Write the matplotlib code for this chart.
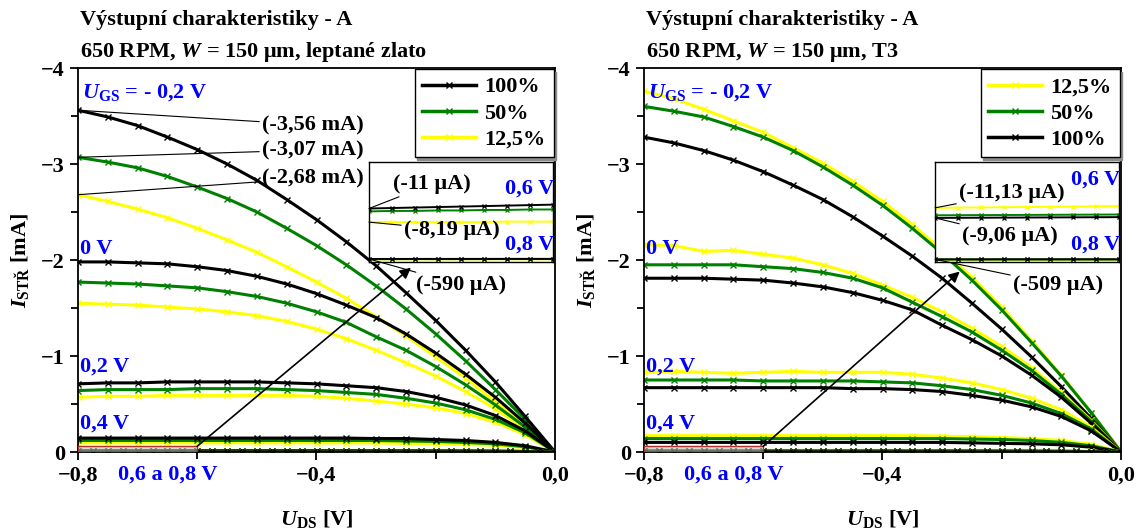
import matplotlib
matplotlib.use("Agg")
import matplotlib.pyplot as plt
from matplotlib.patches import Rectangle
from matplotlib.lines import Line2D
from matplotlib.ticker import MultipleLocator, FuncFormatter

plt.rcParams['font.family'] = ['Liberation Serif', 'DejaVu Serif']
plt.rcParams['font.weight'] = 'bold'
plt.rcParams['font.size'] = 16
plt.rcParams['mathtext.fontset'] = 'custom'
plt.rcParams['mathtext.rm'] = 'Liberation Serif:bold'
plt.rcParams['mathtext.it'] = 'Liberation Serif:italic:bold'
plt.rcParams['mathtext.bf'] = 'Liberation Serif:bold'

# U_DS sweep [V]
UDS = [-0.8, -0.75, -0.7, -0.65, -0.6, -0.55, -0.5, -0.45, -0.4,
       -0.35, -0.3, -0.25, -0.2, -0.15, -0.1, -0.05, 0.0]
UDS_FINE = [-0.8, -0.775, -0.75, -0.725, -0.7, -0.675, -0.65, -0.625, -0.6,
            -0.575, -0.55, -0.525, -0.5, -0.475, -0.45, -0.425, -0.4,
            -0.375, -0.35, -0.325, -0.3, -0.275, -0.25, -0.225, -0.2,
            -0.175, -0.15, -0.125, -0.1, -0.075, -0.05, -0.025, 0.0]

# left panel: leptane zlato, I [mA]
zl_m02_100 = [-3.56, -3.49, -3.40, -3.28, -3.15, -3.00, -2.83, -2.63, -2.42, -2.19, -1.94, -1.66, -1.37, -1.06, -0.73, -0.37, 0.0]
zl_m02_50 = [-3.07, -3.02, -2.96, -2.87, -2.76, -2.64, -2.50, -2.33, -2.15, -1.95, -1.73, -1.49, -1.23, -0.95, -0.65, -0.34, 0.0]
zl_m02_12 = [-2.68, -2.61, -2.53, -2.44, -2.33, -2.21, -2.08, -1.93, -1.77, -1.60, -1.41, -1.21, -0.99, -0.77, -0.52, -0.27, 0.0]
zl_0_100 = [-1.98, -1.98, -1.97, -1.96, -1.93, -1.89, -1.83, -1.75, -1.65, -1.53, -1.40, -1.23, -1.03, -0.81, -0.57, -0.30, 0.0]
zl_0_50 = [-1.77, -1.76, -1.75, -1.73, -1.71, -1.67, -1.62, -1.55, -1.46, -1.35, -1.20, -1.06, -0.89, -0.70, -0.49, -0.26, 0.0]
zl_0_12 = [-1.55, -1.54, -1.53, -1.51, -1.49, -1.46, -1.42, -1.36, -1.28, -1.18, -1.06, -0.93, -0.79, -0.63, -0.45, -0.24, 0.0]
zl_02_100 = [-0.71, -0.72, -0.72, -0.73, -0.73, -0.73, -0.73, -0.72, -0.71, -0.69, -0.67, -0.63, -0.57, -0.49, -0.38, -0.22, 0.0]
zl_02_50 = [-0.64, -0.65, -0.65, -0.65, -0.66, -0.66, -0.66, -0.65, -0.64, -0.62, -0.60, -0.56, -0.51, -0.44, -0.34, -0.20, 0.0]
zl_02_12 = [-0.57, -0.58, -0.58, -0.59, -0.59, -0.59, -0.59, -0.59, -0.58, -0.56, -0.53, -0.50, -0.46, -0.40, -0.31, -0.18, 0.0]
zl_04_100 = [-0.145, -0.145, -0.145, -0.145, -0.145, -0.145, -0.145, -0.145, -0.145, -0.145, -0.14, -0.14, -0.13, -0.12, -0.10, -0.065, 0.0]
zl_04_50 = [-0.12, -0.12, -0.12, -0.12, -0.12, -0.12, -0.12, -0.12, -0.12, -0.12, -0.12, -0.115, -0.11, -0.10, -0.085, -0.055, 0.0]
zl_04_12 = [-0.095, -0.095, -0.095, -0.095, -0.095, -0.095, -0.095, -0.095, -0.095, -0.095, -0.095, -0.09, -0.085, -0.08, -0.07, -0.045, 0.0]
# sub-threshold, I [uA], on UDS_FINE
zl_06_100 = [-11.0, -11.1, -11.2, -11.3, -11.4, -11.5, -11.6, -11.7, -11.8, -11.8, -11.9, -11.9, -11.9, -11.9, -11.9, -11.9, -11.9,
             -11.9, -11.8, -11.8, -11.7, -11.6, -11.5, -11.3, -11.1, -10.8, -10.4, -9.8, -8.9, -7.6, -5.6, -3.1, 0.0]
zl_06_50 = [-10.4, -10.5, -10.5, -10.6, -10.6, -10.7, -10.7, -10.8, -10.8, -10.9, -10.9, -10.9, -10.9, -10.9, -10.9, -10.9, -10.9,
            -10.9, -10.8, -10.8, -10.7, -10.6, -10.5, -10.3, -10.1, -9.8, -9.4, -8.9, -8.1, -6.9, -5.1, -2.8, 0.0]
zl_06_12 = [-8.19, -8.2, -8.2, -8.2, -8.2, -8.2, -8.3, -8.3, -8.3, -8.3, -8.3, -8.3, -8.3, -8.3, -8.3, -8.3, -8.3,
            -8.3, -8.3, -8.2, -8.2, -8.1, -8.0, -7.9, -7.8, -7.6, -7.3, -6.9, -6.3, -5.4, -4.0, -2.2, 0.0]
zl_08_100 = [-0.59, -0.59, -0.60, -0.60, -0.60, -0.60, -0.61, -0.61, -0.61, -0.61, -0.61, -0.61, -0.61, -0.61, -0.61, -0.61, -0.61,
             -0.61, -0.61, -0.60, -0.60, -0.60, -0.59, -0.58, -0.57, -0.55, -0.53, -0.50, -0.45, -0.39, -0.29, -0.16, 0.0]
zl_08_50 = [-0.55, -0.55, -0.56, -0.56, -0.56, -0.56, -0.57, -0.57, -0.57, -0.57, -0.57, -0.57, -0.57, -0.57, -0.57, -0.57, -0.57,
            -0.57, -0.57, -0.56, -0.56, -0.56, -0.55, -0.54, -0.53, -0.51, -0.49, -0.46, -0.42, -0.36, -0.27, -0.15, 0.0]
zl_08_12 = [-0.50, -0.50, -0.51, -0.51, -0.51, -0.51, -0.52, -0.52, -0.52, -0.52, -0.52, -0.52, -0.52, -0.52, -0.52, -0.52, -0.52,
            -0.52, -0.52, -0.51, -0.51, -0.51, -0.50, -0.49, -0.48, -0.47, -0.45, -0.42, -0.38, -0.33, -0.25, -0.14, 0.0]

# right panel: T3, I [mA]
t3_m02_100 = [-3.28, -3.22, -3.14, -3.04, -2.92, -2.78, -2.63, -2.45, -2.25, -2.04, -1.81, -1.55, -1.28, -0.99, -0.68, -0.35, 0.0]
t3_m02_50 = [-3.60, -3.55, -3.49, -3.39, -3.28, -3.14, -2.97, -2.78, -2.57, -2.33, -2.07, -1.79, -1.48, -1.14, -0.79, -0.41, 0.0]
t3_m02_12 = [-3.76, -3.68, -3.57, -3.45, -3.33, -3.17, -3.01, -2.82, -2.61, -2.37, -2.10, -1.82, -1.51, -1.16, -0.80, -0.41, 0.0]
t3_0_100 = [-1.81, -1.81, -1.81, -1.80, -1.79, -1.76, -1.72, -1.66, -1.58, -1.48, -1.32, -1.17, -1.00, -0.80, -0.57, -0.30, 0.0]
t3_0_50 = [-1.95, -1.95, -1.95, -1.95, -1.93, -1.91, -1.87, -1.81, -1.71, -1.56, -1.41, -1.25, -1.06, -0.85, -0.60, -0.32, 0.0]
t3_0_12 = [-2.16, -2.15, -2.09, -2.10, -2.06, -2.02, -1.95, -1.86, -1.74, -1.61, -1.46, -1.29, -1.10, -0.88, -0.62, -0.33, 0.0]
t3_02_100 = [-0.67, -0.67, -0.67, -0.67, -0.67, -0.67, -0.67, -0.66, -0.66, -0.65, -0.63, -0.59, -0.54, -0.47, -0.37, -0.22, 0.0]
t3_02_50 = [-0.75, -0.75, -0.75, -0.75, -0.74, -0.74, -0.74, -0.74, -0.73, -0.72, -0.69, -0.65, -0.59, -0.51, -0.40, -0.24, 0.0]
t3_02_12 = [-0.83, -0.84, -0.83, -0.82, -0.83, -0.84, -0.83, -0.83, -0.83, -0.81, -0.77, -0.72, -0.65, -0.56, -0.44, -0.26, 0.0]
t3_04_100 = [-0.10, -0.10, -0.10, -0.10, -0.10, -0.10, -0.10, -0.10, -0.10, -0.10, -0.10, -0.095, -0.09, -0.085, -0.075, -0.05, 0.0]
t3_04_50 = [-0.14, -0.14, -0.14, -0.14, -0.14, -0.14, -0.14, -0.14, -0.14, -0.14, -0.14, -0.135, -0.13, -0.12, -0.10, -0.065, 0.0]
t3_04_12 = [-0.17, -0.17, -0.17, -0.17, -0.17, -0.17, -0.17, -0.17, -0.17, -0.17, -0.165, -0.16, -0.15, -0.14, -0.12, -0.08, 0.0]
t3_06_100 = [-9.06, -9.08, -9.10, -9.12, -9.14, -9.16, -9.18, -9.20, -9.22, -9.23, -9.24, -9.25, -9.25, -9.25, -9.25, -9.25, -9.25,
             -9.25, -9.24, -9.23, -9.20, -9.15, -9.10, -9.00, -8.80, -8.60, -8.20, -7.70, -7.00, -5.90, -4.40, -2.40, 0.0]
t3_06_50 = [-9.60, -9.62, -9.64, -9.66, -9.68, -9.70, -9.72, -9.74, -9.76, -9.77, -9.78, -9.78, -9.78, -9.78, -9.78, -9.78, -9.78,
            -9.78, -9.77, -9.76, -9.72, -9.67, -9.60, -9.50, -9.30, -9.05, -8.65, -8.10, -7.35, -6.20, -4.60, -2.50, 0.0]
t3_06_12 = [-11.13, -11.18, -11.22, -11.27, -11.31, -11.36, -11.40, -11.45, -11.50, -11.52, -11.55, -11.57, -11.58, -11.58, -11.58, -11.58, -11.58,
            -11.57, -11.55, -11.52, -11.48, -11.40, -11.30, -11.15, -10.90, -10.60, -10.10, -9.50, -8.60, -7.30, -5.40, -3.00, 0.0]
t3_08_100 = [-0.51, -0.51, -0.51, -0.52, -0.52, -0.52, -0.52, -0.52, -0.52, -0.52, -0.52, -0.52, -0.52, -0.52, -0.52, -0.52, -0.52,
             -0.52, -0.52, -0.51, -0.51, -0.51, -0.50, -0.49, -0.48, -0.47, -0.45, -0.42, -0.38, -0.33, -0.25, -0.14, 0.0]
t3_08_50 = [-0.48, -0.48, -0.48, -0.49, -0.49, -0.49, -0.49, -0.49, -0.49, -0.49, -0.49, -0.49, -0.49, -0.49, -0.49, -0.49, -0.49,
            -0.49, -0.49, -0.48, -0.48, -0.48, -0.47, -0.46, -0.45, -0.44, -0.42, -0.40, -0.36, -0.31, -0.23, -0.13, 0.0]
t3_08_12 = [-0.46, -0.46, -0.46, -0.46, -0.46, -0.46, -0.47, -0.47, -0.47, -0.47, -0.47, -0.47, -0.47, -0.47, -0.47, -0.47, -0.47,
            -0.47, -0.47, -0.46, -0.46, -0.46, -0.45, -0.44, -0.43, -0.42, -0.40, -0.38, -0.34, -0.29, -0.22, -0.12, 0.0]

BLACK, GREEN, YELLOW, BLUE = '#000000', '#008000', '#ffff00', '#0000ff'
SERIES = {'100%': BLACK, '50%': GREEN, '12,5%': YELLOW}

W, H = 1141, 532
AX_W, AX_TOP, AX_BOT = 477, 68, 452


def fr(px, py, x0):
    # figure pixel -> axes fraction
    return ((px - x0) / AX_W, (AX_BOT - py) / (AX_BOT - AX_TOP))


def fmt_x(v, pos):
    if abs(v) < 1e-9:
        v = 0.0
    return f'{v:.1f}'.replace('.', ',').replace('-', '\u2212')


def fmt_y(v, pos):
    if abs(v) < 1e-9:
        return '0'
    return f'{v:.0f}'.replace('-', '\u2212')


def panel(x0, main, sub, order, subtitle, ann, sub_ann, blue_inset, arrow_end, title_x):
    ax = fig.add_axes([x0 / W, 1 - AX_BOT / H, AX_W / W, (AX_BOT - AX_TOP) / H])
    mk = dict(lw=2.2, marker='x', ms=4.5, mew=1.0)
    for group in main:
        for name in ['12,5%', '50%', '100%']:
            ax.plot(UDS, group[name], color=SERIES[name], **mk)
    for group in sub:
        for name in ['12,5%', '50%', '100%']:
            ax.plot(UDS_FINE, [v / 1000 for v in group[name]], color=SERIES[name], **mk)
    ax.set_xlim(-0.8, 0.0)
    ax.set_ylim(0, -4)
    ax.xaxis.set_major_locator(MultipleLocator(0.4))
    ax.xaxis.set_minor_locator(MultipleLocator(0.2))
    ax.yaxis.set_major_locator(MultipleLocator(1))
    ax.yaxis.set_minor_locator(MultipleLocator(0.5))
    ax.xaxis.set_major_formatter(FuncFormatter(fmt_x))
    ax.yaxis.set_major_formatter(FuncFormatter(fmt_y))
    ax.tick_params(which='both', direction='out', width=1.3, labelsize=16, top=False, right=False)
    ax.tick_params(which='major', length=6)
    ax.tick_params(which='minor', length=5)
    for s in ax.spines.values():
        s.set_linewidth(1.3)

    handles = [Line2D([], [], color=SERIES[n], lw=2.5, marker='x', ms=5, mew=1) for n in order]
    ax.legend(handles, order, loc='upper right', bbox_to_anchor=(0.997, 0.997), borderaxespad=0,
              fancybox=False, edgecolor='black', framealpha=1, handlelength=2.4, handletextpad=0.4,
              labelspacing=0.25, borderpad=0.35, numpoints=1, fontsize=16,
              shadow={'color': '0.55', 'alpha': 1})

    # curve value labels
    for txt, yv, (px, py) in ann:
        ax.annotate(txt, xy=(-0.8, yv), xycoords='data', xytext=fr(px, py, x0), textcoords='axes fraction',
                    ha='left', va='center', fontsize=16,
                    arrowprops=dict(arrowstyle='-', lw=0.8, color='black', shrinkA=0, shrinkB=0))

    # blue U_GS labels
    blue = [(r'$\mathit{U}_{\mathrm{GS}}$ = - 0,2 V', 82, 98), ('0 V', 80, 254), ('0,2 V', 80, 372),
            ('0,4 V', 80, 429), ('0,6 a 0,8 V', 118, 480)]
    for txt, px, py in blue:
        ax.text(*fr(x0 + px - 78, py, x0), txt, color=BLUE, fontsize=16, ha='left', va='baseline',
                transform=ax.transAxes, clip_on=False)

    # zoom rectangle
    ax.add_patch(Rectangle((-0.8, 0), 0.2, -0.06, facecolor=(0.72, 0.72, 0.72, 0.55),
                           edgecolor='#b03030', lw=1.0, zorder=5))
    ax.annotate('', xy=arrow_end, xycoords='axes fraction', xytext=(-0.6, -0.06), textcoords='data',
                arrowprops=dict(arrowstyle='-|>', lw=1.2, color='black', mutation_scale=16,
                                shrinkA=0, shrinkB=0), zorder=6)

    # inset
    ins = ax.inset_axes([0.61, 0.494, 0.386, 0.26])
    for group in sub:
        for name in ['12,5%', '50%', '100%']:
            ins.plot(UDS_FINE, [v / 1000 for v in group[name]], color=SERIES[name], lw=1.4,
                     marker='x', ms=3, mew=0.9)
    ins.set_xlim(-0.8, -0.6)
    ins.set_ylim(0.0001, -0.0205)
    ins.set_xticks([])
    ins.set_yticks([])
    for s in ins.spines.values():
        s.set_linewidth(1.0)

    for txt, (xv, yv), (px, py) in sub_ann:
        ins.annotate(txt, xy=(xv, yv / 1000), xycoords='data', xytext=fr(px, py, x0),
                     textcoords=ax.transAxes, ha='left', va='center', fontsize=16,
                     arrowprops=dict(arrowstyle='-', lw=0.8, color='black', shrinkA=0, shrinkB=0),
                     annotation_clip=False)
    for txt, py in blue_inset:
        ax.text(*fr(x0 + 476, py, x0), txt, color=BLUE, fontsize=16, ha='right', va='center',
                transform=ax.transAxes, zorder=10)

    fig.text(title_x / W, 1 - 25 / H, 'Výstupní charakteristiky - A', fontsize=16, ha='left', va='baseline')
    fig.text(title_x / W, 1 - 57 / H, subtitle, fontsize=16, ha='left', va='baseline')
    fig.text((x0 + AX_W / 2) / W, 1 - 525 / H, r'$\mathit{U}_{\mathrm{DS}}$ [V]', fontsize=16,
             ha='center', va='baseline')
    fig.text((x0 - 58) / W, 1 - 260 / H, r'$\mathit{I}_{\mathrm{STŘ}}$ [mA]', fontsize=16,
             ha='center', va='center', rotation=90)
    return ax


fig = plt.figure(figsize=(W / 100, H / 100), dpi=100)

left_main = [
    {'100%': zl_m02_100, '50%': zl_m02_50, '12,5%': zl_m02_12},
    {'100%': zl_0_100, '50%': zl_0_50, '12,5%': zl_0_12},
    {'100%': zl_02_100, '50%': zl_02_50, '12,5%': zl_02_12},
    {'100%': zl_04_100, '50%': zl_04_50, '12,5%': zl_04_12},
]
left_sub = [
    {'100%': zl_06_100, '50%': zl_06_50, '12,5%': zl_06_12},
    {'100%': zl_08_100, '50%': zl_08_50, '12,5%': zl_08_12},
]
right_main = [
    {'100%': t3_m02_100, '50%': t3_m02_50, '12,5%': t3_m02_12},
    {'100%': t3_0_100, '50%': t3_0_50, '12,5%': t3_0_12},
    {'100%': t3_02_100, '50%': t3_02_50, '12,5%': t3_02_12},
    {'100%': t3_04_100, '50%': t3_04_50, '12,5%': t3_04_12},
]
right_sub = [
    {'100%': t3_06_100, '50%': t3_06_50, '12,5%': t3_06_12},
    {'100%': t3_08_100, '50%': t3_08_50, '12,5%': t3_08_12},
]

panel(78, left_main, left_sub, ['100%', '50%', '12,5%'],
      r'650 RPM, $\mathit{W}$ = 150 μm, leptané zlato',
      [('(-3,56 mA)', zl_m02_100[0], (262, 125)),
       ('(-3,07 mA)', zl_m02_50[0], (262, 150)),
       ('(-2,68 mA)', zl_m02_12[0], (262, 178))],
      [('(-11 μA)', (-0.8, zl_06_100[0]), (393, 184)),
       ('(-8,19 μA)', (-0.8, zl_06_12[0]), (404, 230)),
       ('(-590 μA)', (-0.8, zl_08_100[0]), (416, 285))],
      [('0,6 V', 189), ('0,8 V', 245)],
      (0.698, 0.48), 80)

panel(644, right_main, right_sub, ['12,5%', '50%', '100%'],
      r'650 RPM, $\mathit{W}$ = 150 μm, T3',
      [],
      [('(-11,13 μA)', (-0.8, t3_06_12[0]), (959, 193)),
       ('(-9,06 μA)', (-0.8, t3_06_100[0]), (962, 236)),
       ('(-509 μA)', (-0.8, t3_08_100[0]), (1013, 285))],
      [('0,6 V', 180), ('0,8 V', 245)],
      (0.662, 0.47), 646)

fig.savefig('out.png', dpi=100)
